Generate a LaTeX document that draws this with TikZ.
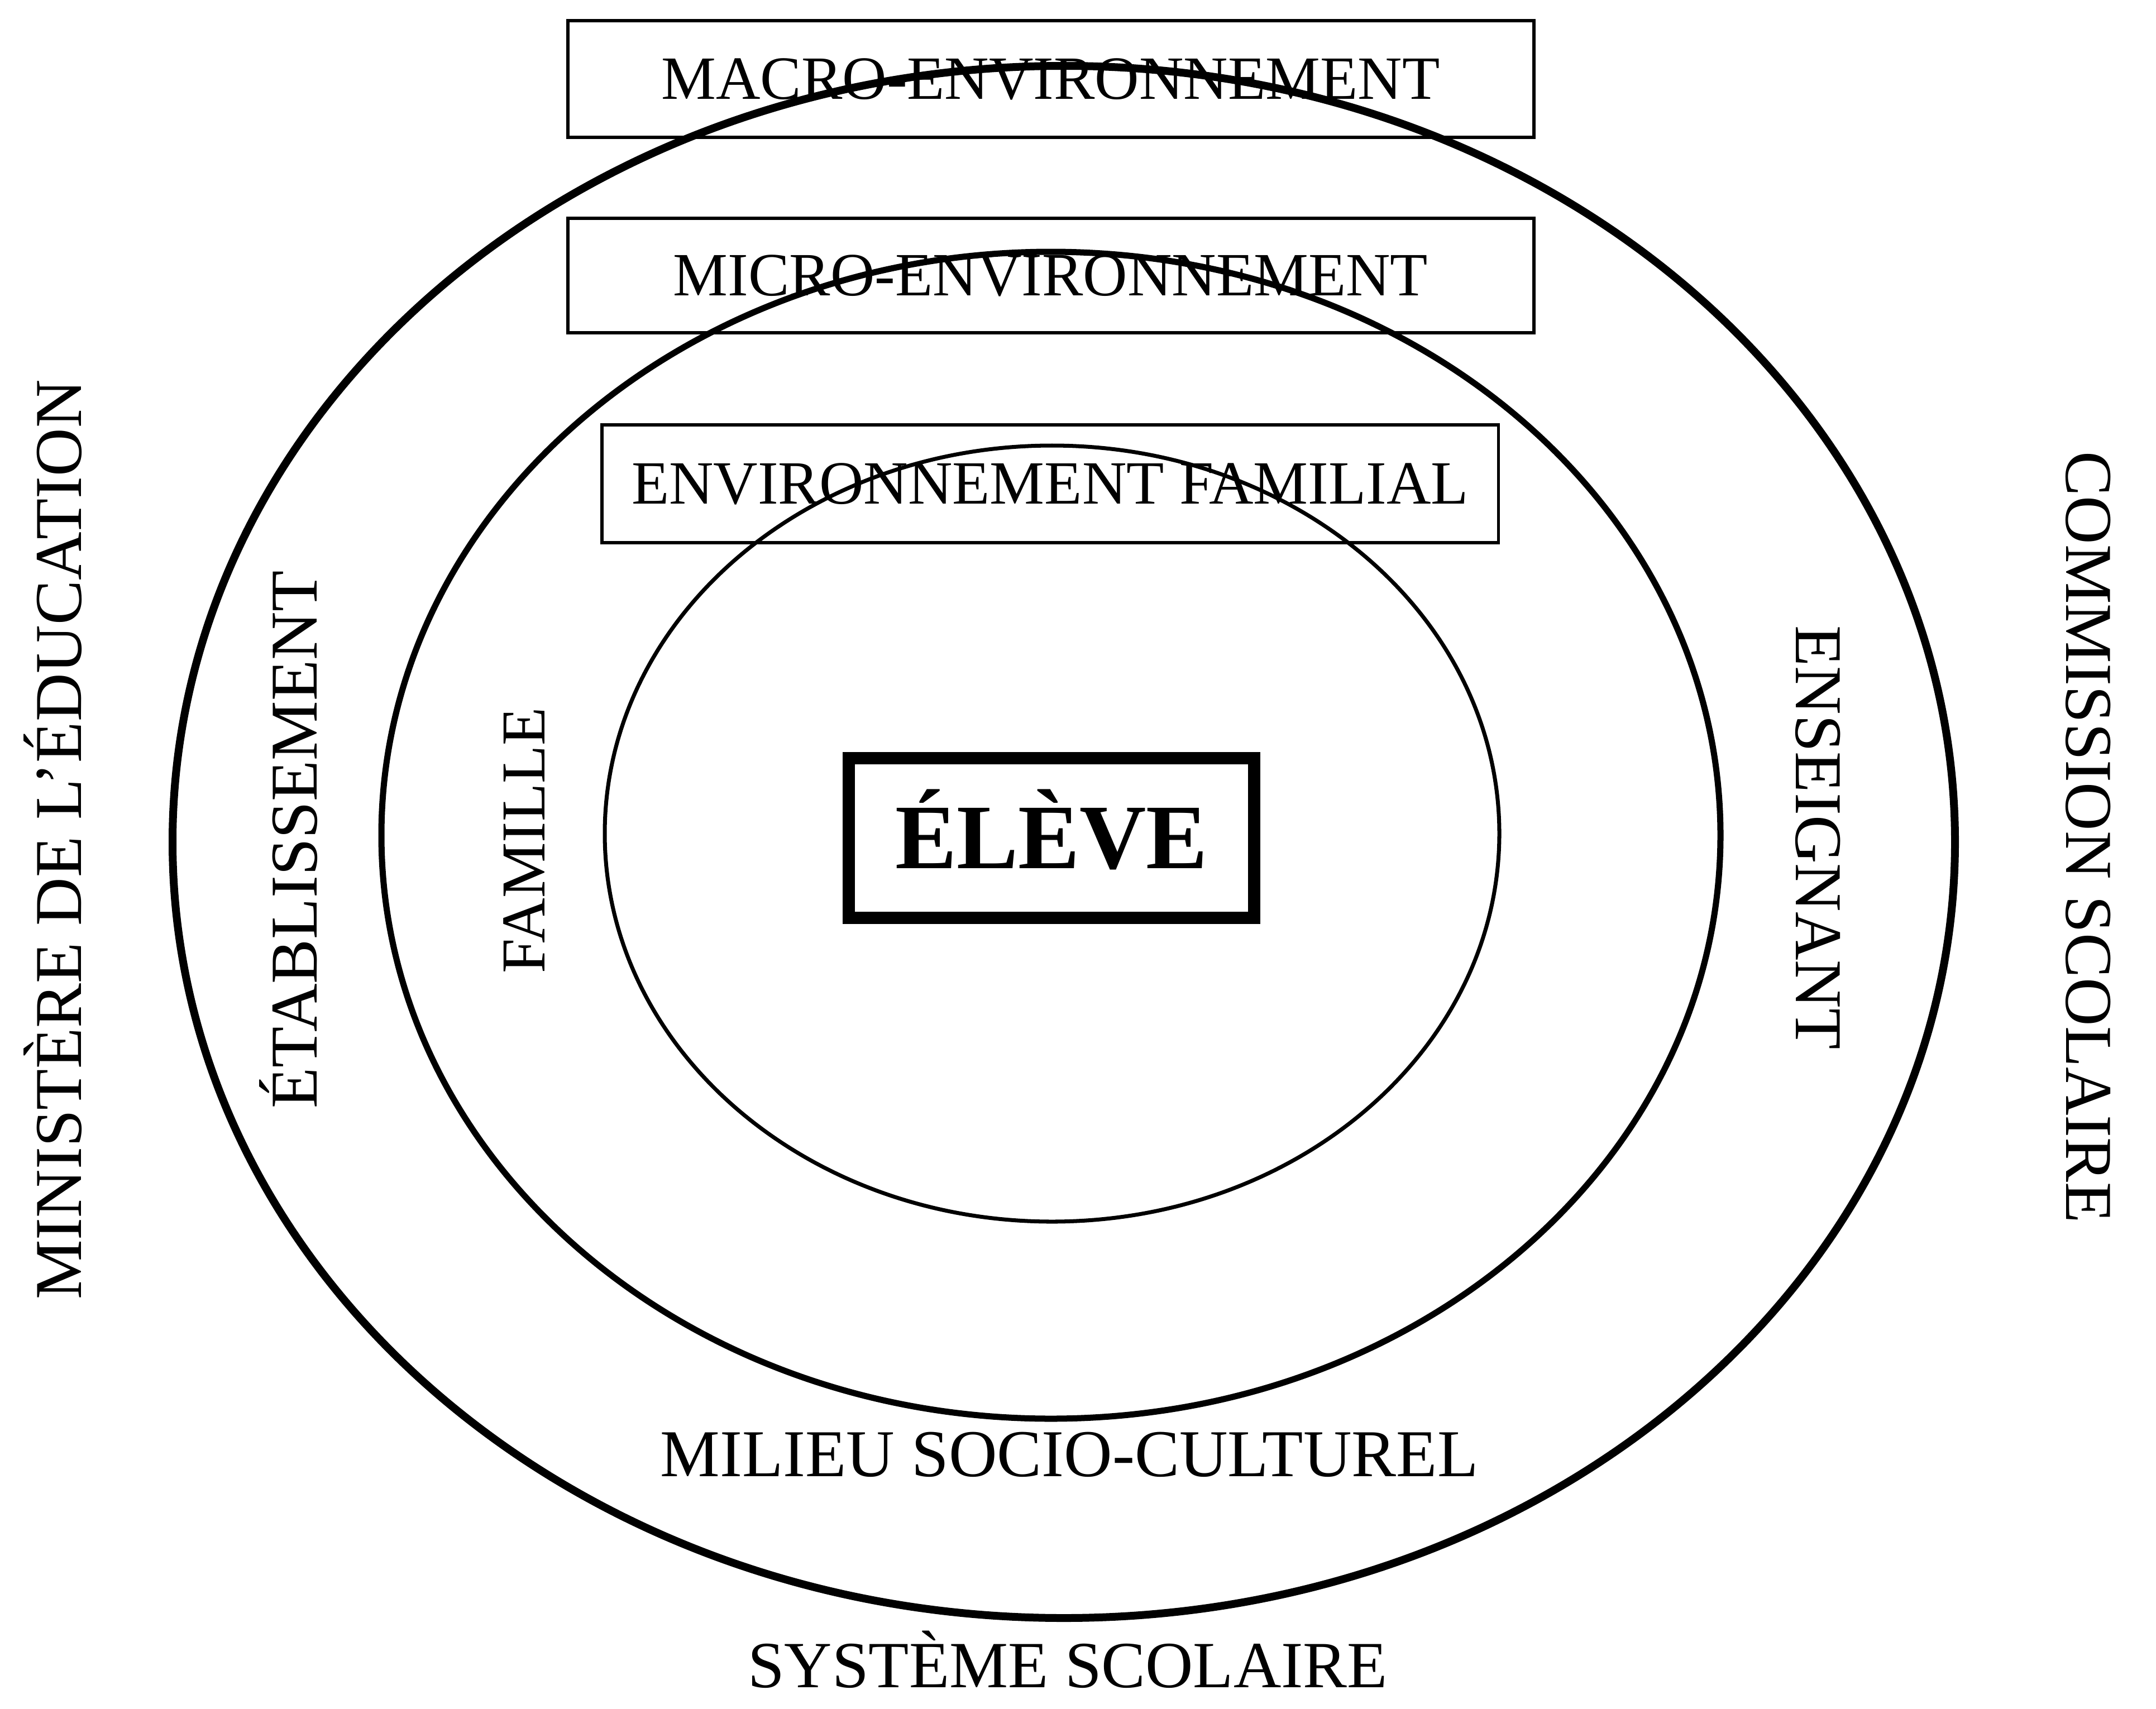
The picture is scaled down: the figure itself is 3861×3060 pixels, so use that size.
\documentclass[tikz,border=0pt]{standalone}
\usepackage{fontspec}
\setmainfont{Liberation Serif}
\newcommand{\szbox}{\fontsize{31.3pt}{36pt}\selectfont}
\newcommand{\szlab}{\fontsize{34.1pt}{40pt}\selectfont}
\newcommand{\szsys}{\fontsize{33.6pt}{40pt}\selectfont}
\newcommand{\szfam}{\fontsize{31.8pt}{38pt}\selectfont}
\newcommand{\szeleve}{\fontsize{46.95pt}{54pt}\selectfont\bfseries}
\begin{document}
\begin{tikzpicture}[x=0.01cm,y=-0.01cm,
  envbox/.style={draw, line width=1.7pt, inner sep=0pt, outer sep=0pt,
                 text height=20.7pt, text depth=0pt, font=\szbox},
  lab/.style={inner sep=0pt, outer sep=0pt, anchor=base, font=\szlab},
  outerring/.style={line width=3.98pt},
  midring/.style={line width=3.13pt},
  innerring/.style={line width=2pt}
]
\useasboundingbox (0,0) rectangle (3861,3060);
\path[fill=white] (0,0) rectangle (3861,3060);

% rings
\draw[outerring] (1905,1508) ellipse [x radius=1596, y radius=1390];
\draw[midring]   (1882,1496) ellipse [x radius=1199, y radius=1045];
\draw[innerring] (1884,1493) ellipse [x radius=801, y radius=695];

% boxes
\node[envbox, minimum width=17.29cm, minimum height=2.09cm] (macro) at (1881.5,141.5) {MACRO-ENVIRONNEMENT};
\node[envbox, minimum width=17.29cm, minimum height=2.05cm] (micro) at (1881.5,493.5) {MICRO-ENVIRONNEMENT};
\node[envbox, minimum width=16.05cm, minimum height=2.11cm] (famenv) at (1880.5,866.5) {ENVIRONNEMENT FAMILIAL};

\node[draw, line width=6.26pt, inner sep=0pt, outer sep=0pt,
      minimum width=7.26cm, minimum height=2.85cm,
      text height=31.1pt, text depth=0pt, font=\szeleve] (eleve) at (1883,1501) {ÉLÈVE};

% labels
\node[lab] (milieu) at (1915,2644) {MILIEU SOCIO-CULTUREL};
\node[lab, font=\szsys] (systeme) at (1912,3022) {SYSTÈME SCOLAIRE};
\node[lab, rotate=90] (ministere) at (145,1504) {MINISTÈRE DE L’ÉDUCATION};
\node[lab, rotate=90] (etab) at (567,1504) {ÉTABLISSEMENT};
\node[lab, rotate=90, font=\szfam] (famille) at (975,1505) {FAMILLE};
\node[lab, rotate=-90] (enseignant) at (3216,1500) {ENSEIGNANT};
\node[lab, rotate=-90] (commission) at (3700,1500) {COMMISSION SCOLAIRE};
\end{tikzpicture}
\end{document}
